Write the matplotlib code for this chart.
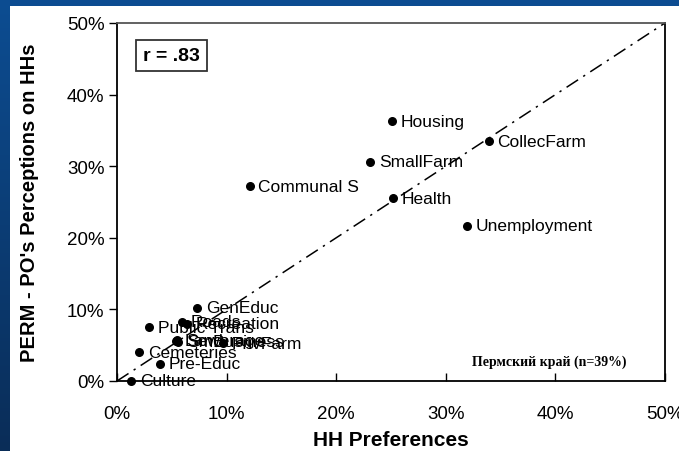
import numpy as np
import matplotlib.pyplot as plt
from matplotlib.patches import Rectangle

# HH preferences (x) vs PO perceptions (y), percent
names = ["Housing", "CollecFarm", "SmallFarm", "Communal S", "Health",
         "Unemployment", "GenEduc", "Roads", "Recreation", "Public Trans",
         "Land", "Sewerage", "SmBusiness", "PrivFarm", "Cemeteries",
         "Pre-Educ", "Culture"]
hh = [25.1, 33.9, 23.1, 12.1, 25.2, 31.9, 7.3, 5.9, 6.4, 2.9,
      5.4, 5.5, 5.6, 9.7, 2.0, 3.9, 1.3]
po = [36.3, 33.5, 30.6, 27.2, 25.5, 21.7, 10.2, 8.3, 8.0, 7.5,
      5.6, 5.7, 5.5, 5.3, 4.0, 2.4, 0.0]
ticks = [0, 10, 20, 30, 40, 50]

plt.rcParams['font.family'] = ['Liberation Sans', 'DejaVu Sans']

fig = plt.figure(figsize=(6.79, 4.52), dpi=100)

# blue slide background with gradient
bg = fig.add_axes([0, 0, 1, 1])
grad = np.linspace(0, 1, 256).reshape(-1, 1)
bg.imshow(grad, aspect='auto', cmap=plt.matplotlib.colors.LinearSegmentedColormap.from_list(
    'b', ['#0d4d92', '#0a2d58']), extent=[0, 1, 0, 1], origin='upper')
bg.axis('off')
fig.patches.append(Rectangle((10 / 679, 0), 1, 1 - 7 / 452, transform=fig.transFigure,
                             facecolor='white', edgecolor='none', zorder=1))

ax = fig.add_axes([117 / 679, 70 / 452, 548 / 679, 358 / 452])
ax.set_zorder(2)
ax.set_xlim(0, 50)
ax.set_ylim(0, 50)

ax.plot([0, 50], [0, 50], color='black', lw=1.1, linestyle=(0, (9, 4, 1.5, 4)))
ax.scatter(hh, po, s=30, color='black', zorder=3, clip_on=False)
for n, x, y in zip(names, hh, po):
    ax.text(x + 0.8, y, n, fontsize=12.5, va='center', ha='left')

ax.set_xticks(ticks)
ax.set_yticks(ticks)
ax.set_xticklabels([f"{t}%" for t in ticks], fontsize=13.5)
ax.set_yticklabels([f"{t}%" for t in ticks], fontsize=13.5)
ax.tick_params(axis='x', direction='in', length=6, pad=17, width=1)
ax.tick_params(axis='y', direction='out', length=6, pad=3, width=1)
for s in ax.spines.values():
    s.set_linewidth(1.3)
ax.spines['top'].set_color('#555555')

ax.set_xlabel("HH Preferences", fontsize=15, fontweight='bold', labelpad=6)
ax.set_ylabel("PERM - PO's Perceptions on HHs", fontsize=14.5, fontweight='bold', labelpad=20)

ax.text(0.048, 0.91, "r = .83", transform=ax.transAxes, fontsize=14, fontweight='bold',
        va='center', ha='left',
        bbox=dict(boxstyle='square,pad=0.35', facecolor='white', edgecolor='#333333', lw=1.3))
ax.text(0.93, 0.055, "Пермский край (n=39%)", transform=ax.transAxes, fontsize=10,
        fontweight='bold', family=['Liberation Serif', 'DejaVu Serif'], ha='right', va='center')

fig.savefig("out.png", dpi=100)
